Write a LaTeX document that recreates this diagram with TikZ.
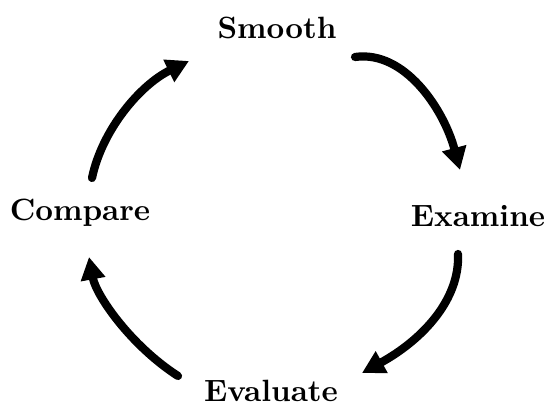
\documentclass[tikz,border=0pt]{standalone}
\usetikzlibrary{arrows.meta}
\begin{document}
\begin{tikzpicture}[x=0.195pt,y=-0.195pt,
  lbl/.style={inner sep=0pt,scale=0.6,font=\fontsize{10}{12}\selectfont\bfseries},
  cyc/.style={line width=1.6pt,line cap=round,-{Triangle[length=4.4pt,width=4.6pt]}}]
\useasboundingbox (0,0) rectangle (547,410);
\node[lbl] (smooth) at (277,28) {Smooth};
\node[lbl] (examine) at (478,216) {Examine};
\node[lbl] (evaluate) at (271,391) {Evaluate};
\node[lbl] (compare) at (80,213) {Compare};
\coordinate (a1s) at (355,57);
\coordinate (a1e) at (460,170);
\coordinate (a2s) at (458,254);
\coordinate (a2e) at (362,373);
\coordinate (a3s) at (178,376);
\coordinate (a3e) at (89,257);
\coordinate (a4s) at (92,178);
\coordinate (a4e) at (189,61);
\draw[cyc] (a1s) .. controls (405,50) and (444,110) .. (a1e);
\draw[cyc] (a2s) .. controls (460,300) and (422,340) .. (a2e);
\draw[cyc] (a3s) .. controls (130,345) and (96,295) .. (a3e);
\draw[cyc] (a4s) .. controls (102,130) and (140,85) .. (a4e);
\end{tikzpicture}
\end{document}
